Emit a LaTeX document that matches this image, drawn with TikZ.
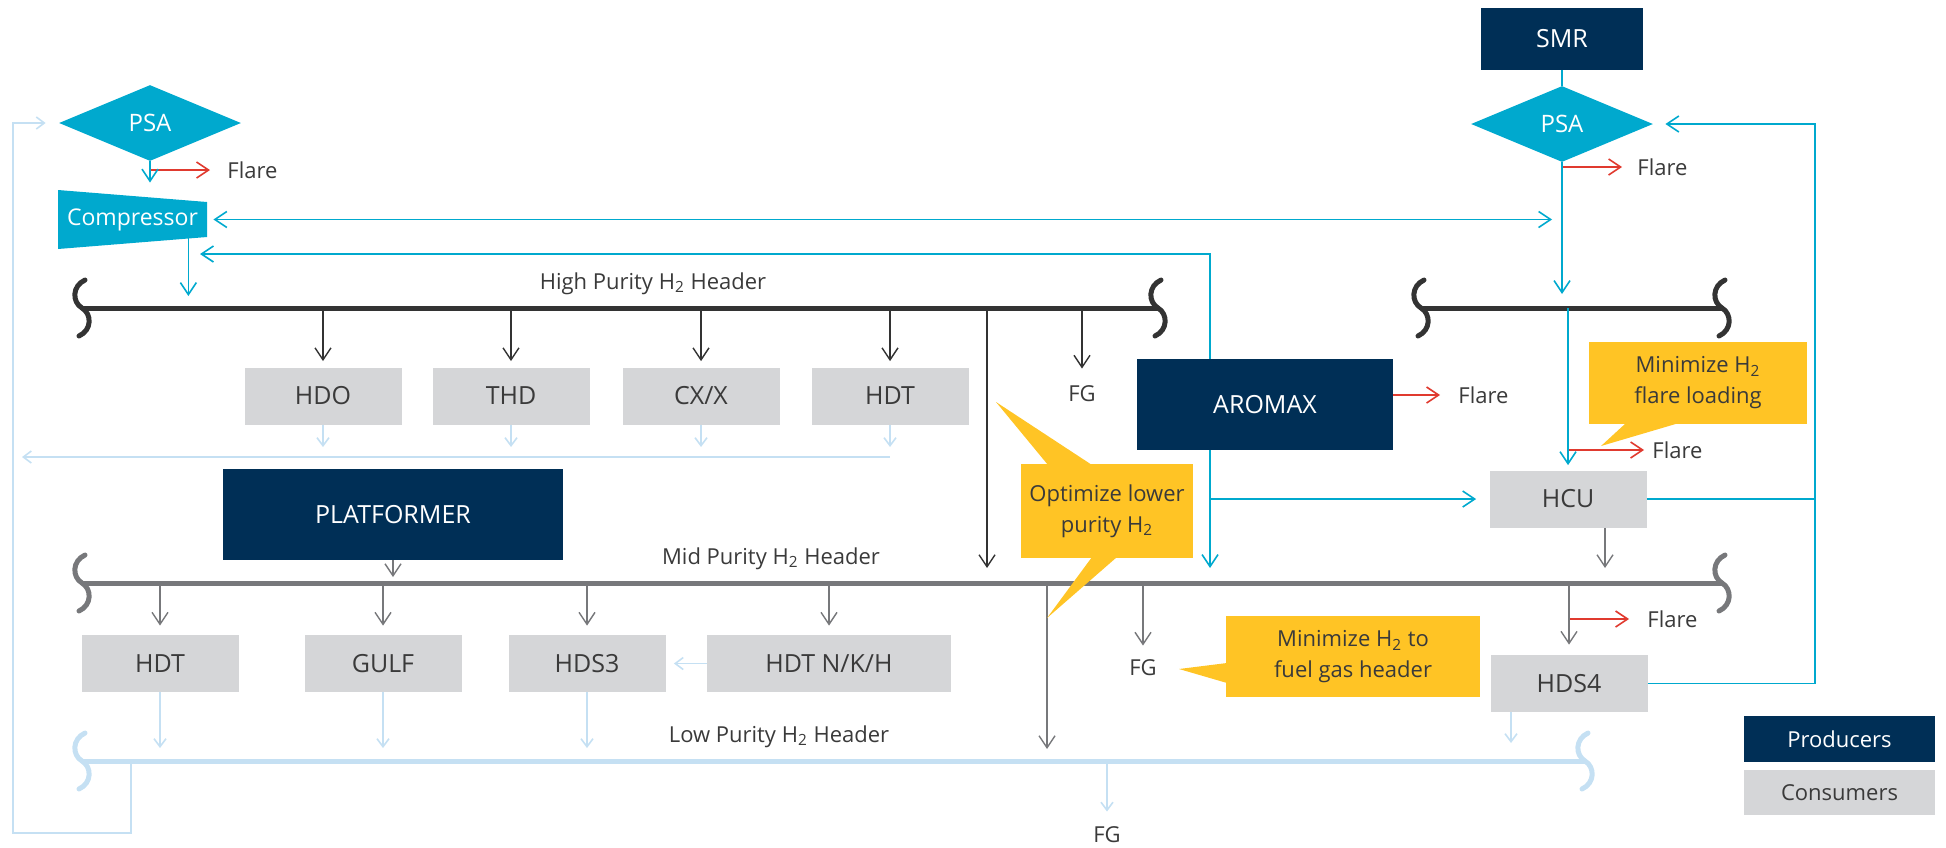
\documentclass[tikz,border=0pt]{standalone}
\usepackage{fontspec}
\setmainfont{Open Sans}
\usepackage{tikz}
\usetikzlibrary{arrows.meta, shapes.geometric}

\definecolor{navy}{HTML}{002F56}
\definecolor{aqua}{HTML}{00A9CE}
\definecolor{pale}{HTML}{C5E0F3}
\definecolor{boxgray}{HTML}{D5D6D8}
\definecolor{dark}{HTML}{333333}
\definecolor{midgray}{HTML}{77787B}
\definecolor{flare}{HTML}{E03A2F}
\definecolor{amber}{HTML}{FFC425}
\definecolor{ink}{HTML}{3A3A3A}

\newcommand{\boxfont}{\fontsize{12.5}{14}\selectfont}
\newcommand{\lblfont}{\fontsize{11}{15.5}\selectfont}
\newcommand{\htwo}{H\textsubscript{2}}

\tikzset{
  prod/.style={fill=navy, text=white, inner sep=0pt, font=\boxfont},
  cons/.style={fill=boxgray, text=ink, inner sep=0pt, font=\boxfont,
    minimum width=78.5pt, minimum height=28.5pt},
  psa/.style={diamond, fill=aqua, text=white, inner sep=0pt,
    font=\fontsize{12}{14}\selectfont, minimum width=91pt, minimum height=38pt},
  lbl/.style={text=ink, font=\lblfont, inner sep=0pt},
  note/.style={fill=amber, text=ink, font=\lblfont, align=center, inner sep=0pt},
  header/.style={line width=2.5pt},
  barb/.style={-{Straight Barb[length=6pt,width=8pt]}},
  hiflow/.style={barb, draw=dark, line width=0.7pt},
  midflow/.style={barb, draw=midgray, line width=0.7pt},
  aquaflow/.style={barb, draw=aqua, line width=0.8pt},
  flareflow/.style={barb, draw=flare, line width=0.8pt},
  paleflow/.style={-{Straight Barb[length=4pt,width=6pt]}, draw=pale, line width=0.8pt},
  pics/brk/.style={code={
    \draw[line width=2.5pt, line cap=round]
      (3,-28) .. controls (-10,-22) and (-10,-6) .. (0,0)
      .. controls (10,6) and (10,22) .. (-3,28);
  }}
}

\begin{document}
\begin{tikzpicture}[x=0.5pt, y=-0.5pt]
    % header levels
    \def\yhi{308}
    \def\ymid{583}
    \def\ylow{761}
    \useasboundingbox (0,0) rectangle (1946,847);

    % producers
    \node[prod, minimum width=81pt, minimum height=31pt] (smr) at (1562,39) {SMR};
    \node[prod, minimum width=128pt, minimum height=45.5pt] (aromax) at (1265,404.5) {AROMAX};
    \node[prod, minimum width=170pt, minimum height=45.5pt] (plat) at (393,514.5) {PLATFORMER};

    % PSA units and compressor
    \node[psa] (psaL) at (150,123) {PSA};
    \node[psa] (psaR) at (1562,124) {PSA};
    \fill[aqua] (58,190) -- (207,202) -- (207,237) -- (58,249) -- cycle;
    \node[text=white, font=\fontsize{11.5}{13}\selectfont, inner sep=0pt, minimum width=74.5pt,
      minimum height=17.5pt] (comp) at (132.5,219.5) {Compressor};

    % consumers
    \foreach \n/\t/\x in {hdo/HDO/323, thd/THD/511, cxx/{CX/X}/701, hdtA/HDT/890}
      \node[cons] (\n) at (\x,396) {\t};
    \foreach \n/\t/\x in {hdtB/HDT/160, gulf/GULF/383, hds3/HDS3/587}
      \node[cons] (\n) at (\x,663.5) {\t};
    \node[cons, minimum width=122pt] (hdtnkh) at (829,663.5) {HDT N/K/H};
    \node[cons] (hcu) at (1568,499) {HCU};
    \node[cons] (hds4) at (1569,683.5) {HDS4};

    % headers
    \coordinate (hiW) at (82,\yhi);   \coordinate (hiE) at (1158,\yhi);
    \coordinate (rhW) at (1421,\yhi); \coordinate (rhE) at (1722,\yhi);
    \coordinate (midW) at (82,\ymid); \coordinate (midE) at (1722,\ymid);
    \coordinate (lowW) at (82,\ylow); \coordinate (lowE) at (1585,\ylow);
    \draw[header, dark] (hiW) -- (hiE);
    \draw[header, dark] (rhW) -- (rhE);
    \draw[header, midgray] (midW) -- (midE);
    \draw[header, pale] (lowW) -- (lowE);
    \foreach \c/\col in {hiW/dark, hiE/dark, rhW/dark, rhE/dark,
                         midW/midgray, midE/midgray, lowW/pale, lowE/pale}
      \pic[color=\col] at (\c) {brk};
    \node[lbl, anchor=base] (hiTxt) at (653,289) {High Purity \htwo{} Header};
    \node[lbl, anchor=base] (midTxt) at (771,564) {Mid Purity \htwo{} Header};
    \node[lbl, anchor=base] (lowTxt) at (779,742) {Low Purity \htwo{} Header};

    % flare and fuel gas outlets
    \node[lbl, anchor=west] (flA) at (227,170) {Flare};
    \node[lbl, anchor=west] (flB) at (1637,167) {Flare};
    \node[lbl, anchor=west] (flC) at (1458,395) {Flare};
    \node[lbl, anchor=west] (flD) at (1652,450) {Flare};
    \node[lbl, anchor=west] (flE) at (1647,619) {Flare};
    \draw[flareflow, shorten >=8.5pt] (psaL.south |- flA.west) -- (flA.west);
    \draw[flareflow, shorten >=7.5pt] (psaR.south |- flB.west) -- (flB.west);
    \draw[flareflow, shorten >=9pt] (aromax.east |- flC.west) -- (flC.west);
    \draw[flareflow, shorten >=4pt] (hcu.north |- flD.west) -- (flD.west);
    \draw[flareflow, shorten >=9pt] (hds4.north |- flE.west) -- (flE.west);
    \node[lbl] (fgA) at (1082,394) {FG};
    \node[lbl] (fgB) at (1143,668) {FG};
    \node[lbl] (fgC) at (1107,835) {FG};

    % high purity header
    \foreach \n in {hdo, thd, cxx, hdtA}
      \draw[hiflow, shorten >=3pt] (\n.north |- hiW) -- (\n.north);
    \draw[hiflow, shorten >=8.5pt] (fgA.north |- hiW) -- (fgA.north);
    \coordinate (hiDrop) at (987,\yhi);
    \draw[hiflow, shorten >=7.5pt] (hiDrop) -- (hiDrop |- midW);

    % mid purity header
    \foreach \n in {hdtB, gulf, hds3, hdtnkh}
      \draw[midflow, shorten >=4.5pt] (\n.north |- midW) -- (\n.north);
    \draw[midflow, shorten >=3pt] (plat.south) -- (plat.south |- midW);
    \draw[midflow, shorten >=7pt] (fgB.north |- midW) -- (fgB.north);
    \draw[midflow, shorten >=5pt] (hds4.north |- midW) -- (hds4.north);
    \draw[midflow, shorten >=7.5pt] ([xshift=18.5pt]hcu.south) -- ([xshift=18.5pt]hcu.south |- midW);
    \coordinate (midDrop) at (1047,\ymid);
    \draw[midflow, shorten >=6pt] (midDrop) -- (midDrop |- lowW);

    % low purity header
    \foreach \n in {hdtB, gulf, hds3}
      \draw[paleflow, shorten >=6.5pt] (\n.south) -- (\n.south |- lowW);
    \draw[paleflow, shorten >=9pt] ([xshift=-29pt]hds4.south) -- ([xshift=-29pt]hds4.south |- lowW);
    \draw[paleflow, shorten >=7.5pt] (fgC.north |- lowW) -- (fgC.north);
    \draw[paleflow, shorten >=4pt] (hdtnkh.west) -- (hds3.east);

    % off-gas return to the left PSA
    \coordinate (ret) at (22,457);
    \foreach \n in {hdo, thd, cxx, hdtA}
      \draw[paleflow, shorten >=5pt] (\n.south) -- (\n.south |- ret);
    \draw[paleflow] (hdtA.south |- ret) -- (ret);
    \coordinate (lowTap) at (131,\ylow);
    \draw[paleflow, shorten >=6.5pt] (lowTap) |- (13,833) |- (psaL.west);

    % aqua lines
    \draw[aquaflow, shorten >=9.5pt] (psaL.south) -- (psaL.south |- comp.north);
    \draw[aquaflow, shorten >=6pt] ([xshift=-9.5pt]comp.south east) -- ([xshift=-9.5pt]comp.south east |- hiW);
    \draw[aquaflow, {Straight Barb[length=6pt,width=8pt]}-{Straight Barb[length=6pt,width=8pt]},
      shorten <=3pt, shorten >=5pt] (comp.east) -- (psaR.south |- comp.east);
    \draw[aquaflow, -] (smr) -- (psaR);
    \draw[aquaflow, shorten >=7pt] (psaR.south) -- (psaR.south |- rhW);
    \draw[aquaflow, shorten >=2.5pt] (hcu.north |- rhW) -- (hcu.north);
    \coordinate (aroN) at ([xshift=-27.5pt]aromax.north);
    \coordinate (aroS) at ([xshift=-27.5pt]aromax.south);
    \coordinate (compRet) at (200,254);
    \draw[aquaflow] (aroN) |- (compRet);
    \draw[aquaflow, shorten >=7.5pt] (aroS) -- (aroS |- midW);
    \draw[aquaflow, shorten >=6.5pt] (aroS |- hcu.west) -- (hcu.west);
    \coordinate (loopR) at (1815,124);
    \draw[aquaflow, -] (hcu.east) -- (hcu.east -| loopR);
    \draw[aquaflow, shorten >=6pt] (hds4.east) -| (loopR) -- (psaR.east);

    % callouts
    \node[note, minimum width=86pt, minimum height=47pt] (optim) at (1107,511) {Optimize lower\\purity \htwo};
    \fill[amber] (1048,465) -- (996,402) -- (1092,465) -- cycle;
    \fill[amber] (1092,557) -- (1047,618) -- (1117,557) -- cycle;
    \node[note, minimum width=127pt, minimum height=40.5pt] (fuel) at (1353,656.5) {Minimize \htwo{} to\\fuel gas header};
    \fill[amber] (1227,663) -- (1179,669) -- (1227,683) -- cycle;
    \node[note, minimum width=109pt, minimum height=41pt] (flr) at (1698,383) {Minimize \htwo\\flare loading};
    \fill[amber] (1626,423) -- (1601,446) -- (1679,423) -- cycle;

    % legend
    \node[prod, minimum width=95.5pt, minimum height=23pt, font=\lblfont] (legP) at (1839.5,739) {Producers};
    \node[cons, minimum width=95.5pt, minimum height=22.5pt, font=\lblfont] (legC) at (1839.5,792.5) {Consumers};

\end{tikzpicture}
\end{document}
